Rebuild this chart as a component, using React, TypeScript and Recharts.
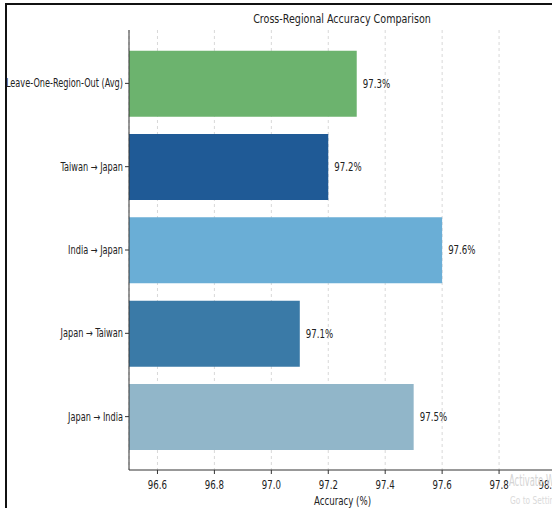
import { BarChart, Bar, XAxis, YAxis, CartesianGrid, Cell, LabelList } from "recharts";

const categories = [
  "Leave-One-Region-Out (Avg)",
  "Taiwan → Japan",
  "India → Japan",
  "Japan → Taiwan",
  "Japan → India",
];
const accuracy = [97.3, 97.2, 97.6, 97.1, 97.5];
const barColors = ["#6cb36e", "#1f5a96", "#6aaed6", "#3a7aa7", "#91b6c9"];
const xTicks = [96.6, 96.8, 97.0, 97.2, 97.4, 97.6, 97.8, 98.0];

const data = categories.map((name, i) => ({ name, value: accuracy[i] }));

const FONT = "'DejaVu Sans Condensed', 'DejaVu Sans', sans-serif";
const SX = 0.8; // text in the reference is squeezed horizontally

// squeezed svg text helper
function SText({ x, y, anchor, size, sx = SX, fill = "#222", children }: any) {
  return (
    <g transform={`translate(${x},${y})`}>
      <text
        textAnchor={anchor}
        transform={`scale(${sx},1)`}
        fontSize={size}
        fontFamily={FONT}
        fill={fill}
      >
        {children}
      </text>
    </g>
  );
}

const YTick = (props: any) => (
  <SText x={props.x} y={props.y + 4} anchor="end" size={11.5} sx={0.79}>
    {props.payload.value}
  </SText>
);

const XTick = (props: any) => (
  <SText x={props.x} y={props.y + 13} anchor="middle" size={12}>
    {Number(props.payload.value).toFixed(1)}
  </SText>
);

const ValueLabel = (props: any) => (
  <SText
    x={props.x + props.width + 6}
    y={props.y + props.height / 2 + 4}
    anchor="start"
    size={12}
  >
    {`${props.value}%`}
  </SText>
);

const AxisTitle = (props: any) => {
  const vb = props.viewBox;
  return (
    <SText x={vb.x + vb.width / 2} y={505} anchor="middle" size={12}>
      Accuracy (%)
    </SText>
  );
};

export default function App() {
  return (
    <div
      style={{
        position: "absolute",
        left: 0,
        top: 0,
        width: 552,
        height: 508,
        overflow: "hidden",
        background: "#fff",
      }}
    >
      {/* screenshot frame */}
      <div
        style={{
          position: "absolute",
          left: 5,
          top: 3,
          width: 700,
          height: 700,
          borderLeft: "2px solid #111",
          borderTop: "2px solid #111",
        }}
      />
      <div style={{ position: "absolute", left: 0, top: 0 }}>
        <BarChart
          width={556}
          height={508}
          layout="vertical"
          data={data}
          margin={{ top: 30, right: 0, bottom: 0, left: 0 }}
        >
          <SText x={342} y={23} anchor="middle" size={12.5} sx={0.85}>
            Cross-Regional Accuracy Comparison
          </SText>
          <CartesianGrid horizontal={false} stroke="#d8d8d8" strokeDasharray="3 3" />
          <XAxis
            type="number"
            domain={[96.5, 98.0]}
            ticks={xTicks}
            allowDataOverflow
            tick={<XTick />}
            tickSize={4}
            tickLine={{ stroke: "#333" }}
            axisLine={{ stroke: "#333" }}
            height={38}
            label={<AxisTitle />}
          />
          <XAxis
            xAxisId="top"
            type="number"
            orientation="top"
            domain={[96.5, 98.0]}
            tick={false}
            tickLine={false}
            axisLine={{ stroke: "#333" }}
            height={0}
          />
          <YAxis
            type="category"
            dataKey="name"
            width={129}
            tickSize={4}
            tick={<YTick />}
            tickLine={{ stroke: "#333" }}
            axisLine={{ stroke: "#333" }}
            padding={{ top: 11.7, bottom: 11.7 }}
          />
          <Bar dataKey="value" barSize={66} isAnimationActive={false}>
            {data.map((d, i) => (
              <Cell key={d.name} fill={barColors[i]} />
            ))}
            <LabelList dataKey="value" content={<ValueLabel />} />
          </Bar>
        </BarChart>
      </div>
      <div
        style={{
          position: "absolute",
          left: 509,
          top: 472,
          fontSize: 15,
          fontFamily: FONT,
          color: "#d4d4d4",
          whiteSpace: "nowrap",
          transform: "scaleX(0.62)",
          transformOrigin: "left top",
        }}
      >
        Activate Windows
      </div>
      <div
        style={{
          position: "absolute",
          left: 510,
          top: 494,
          fontSize: 11,
          fontFamily: FONT,
          color: "#dadada",
          whiteSpace: "nowrap",
          transform: "scaleX(0.75)",
          transformOrigin: "left top",
        }}
      >
        Go to Settings
      </div>
    </div>
  );
}
